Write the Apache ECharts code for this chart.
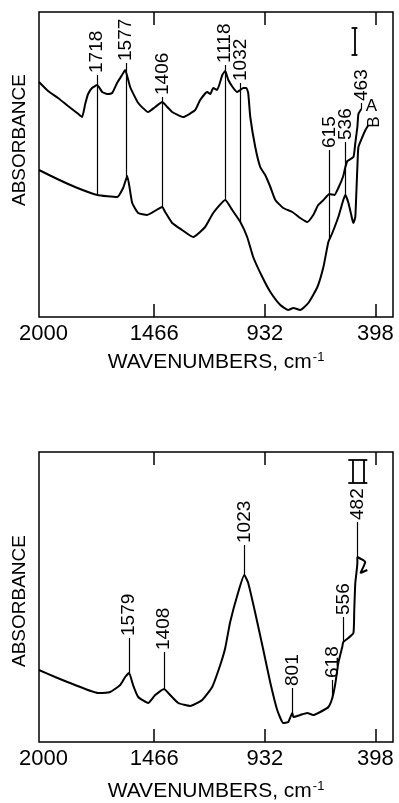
<!DOCTYPE html>
<html><head><meta charset="utf-8">
<script src="https://cdn.jsdelivr.net/npm/echarts@6/dist/echarts.min.js"></script>
<style>html,body{margin:0;padding:0;background:#fff}#c{width:399px;height:803px}</style>
</head><body><div id="c"></div>
<script>
// ---------- DATA ----------
// x-axis tick labels (wavenumbers, cm-1)
const tickLabels = [2000, 1466, 932, 398];
const tickMarks = [1466, 932, 398];

// Upper panel, spectrum A
const waveA = [2022,1978,1930,1882,1838,1814,1799,1785,1766,1741,1717,1693,1669,1645,1621,1606,1582,1543,1495,1461,1427,1403,1379,1326,1268,1244,1210,1195,1181,1162,1137,1123,1108,1084,1065,1050,1036,1021,1012,1002,978,954,930,905,881,843,799,761,727,698,674,649,620,596,577,553,543,533,504,495,485,480,466];
const absA  = [2.35,2.26,2.19,2.11,2.04,2.00,2.13,2.23,2.29,2.32,2.25,2.23,2.24,2.34,2.42,2.47,2.30,2.14,2.05,2.10,2.15,2.10,2.05,2.00,2.07,2.17,2.25,2.23,2.29,2.27,2.42,2.46,2.37,2.29,2.25,2.27,2.29,2.29,2.24,2.00,1.70,1.50,1.42,1.30,1.17,1.09,1.05,0.99,0.95,1.02,1.12,1.17,1.23,1.22,1.29,1.41,1.50,1.56,1.60,1.74,1.90,2.03,2.08];

// Upper panel, spectrum B
const waveB = [2022,1944,1848,1741,1645,1616,1596,1572,1543,1500,1427,1413,1379,1331,1278,1220,1181,1123,1089,1050,1017,988,944,905,857,819,794,761,722,678,649,625,606,577,553,543,528,509,504,495,490,485,480,461,446,432];
const absB  = [1.47,1.39,1.30,1.22,1.20,1.29,1.41,1.14,1.04,1.02,1.10,1.05,0.94,0.87,0.80,0.90,1.04,1.17,1.07,0.95,0.80,0.60,0.40,0.25,0.12,0.07,0.09,0.07,0.14,0.30,0.50,0.75,0.84,1.00,1.17,1.22,1.14,0.97,0.94,1.00,1.24,1.50,1.70,1.80,1.87,1.92];

// Lower panel spectrum
const waveC = [2022,1944,1848,1737,1679,1630,1606,1587,1568,1543,1495,1461,1418,1398,1350,1292,1234,1186,1147,1123,1099,1060,1031,1012,978,939,905,872,843,819,799,794,761,727,698,664,625,606,591,577,558,553,529,504,500,495,485,485,447,470,437];
const absC  = [0.72,0.65,0.57,0.49,0.50,0.57,0.65,0.69,0.57,0.45,0.39,0.47,0.53,0.49,0.39,0.36,0.42,0.55,0.77,0.94,1.20,1.50,1.67,1.59,1.29,0.92,0.59,0.32,0.19,0.20,0.29,0.25,0.27,0.29,0.27,0.30,0.35,0.44,0.59,0.79,0.95,1.00,1.04,1.09,1.32,1.59,1.79,1.85,1.80,1.69,1.72];

// Upper panel peak annotations
const peaksTopText = ['1718','1577','1406','1118','1032','615','536','463'];
const peaksTopPos  = [1742,1601,1425,1123,1050,620,543,466];
const peaksTopBase = [2.42,2.54,2.20,2.52,2.34,1.67,1.75,2.14];
const peaksTopEnd  = [1.22,1.40,1.10,1.17,0.95,0.77,1.22,2.08];

// Lower panel peak annotations
const peaksLowText = ['1579','1408','1023','801','618','556','482'];
const peaksLowPos  = [1587,1418,1031,799,606,553,485];
const peaksLowBase = [1.04,0.90,1.97,0.54,0.62,1.25,2.20];
const peaksLowEnd  = [0.69,0.53,1.67,0.29,0.44,1.00,1.85];

// Curve identifiers (upper panel)
const curveNames = ['A','B'];
const curveNamePos = [[417,2.11],[403,1.95]];
const curveNameRot = [0, 90];

// Absorbance scale bars
const scaleTop = {w:[513,499,485], lo:2.62, hi:2.89};
const scaleLow = {w:[529,509,456,437], lo:2.59, hi:2.82};

// ---------- CHART ----------
const FONT = "'Liberation Sans', Arial, sans-serif";
const X_MIN = 313, X_MAX = 2022;
const pairs = (w,a) => w.map((x,i)=>[x,a[i]]);
const drops = (p,b,e) => p.map((x,i)=>[{coord:[x,b[i]]},{coord:[x,e[i]]}]);

function bottomAxis(g, gap){
  return {type:'value', gridIndex:g, min:X_MIN, max:X_MAX, inverse:true, position:'bottom',
    axisLine:{show:false}, splitLine:{show:false},
    axisTick:{show:true, inside:true, length:13, customValues:tickMarks, lineStyle:{color:'#000',width:1.5}},
    axisLabel:{show:true, customValues:tickLabels, formatter:(v)=>String(v), color:'#000', fontSize:22, fontFamily:FONT, margin:6},
    name:'WAVENUMBERS, cm{s|-1}', nameLocation:'middle', nameGap:gap,
    nameTextStyle:{color:'#000', fontSize:21, fontFamily:FONT,
      rich:{s:{fontSize:13, fontFamily:FONT, color:'#000', verticalAlign:'top', padding:[0,0,10,1]}}}
  };
}
function topAxis(g){
  return {type:'value', gridIndex:g, min:X_MIN, max:X_MAX, inverse:true, position:'top',
    axisLine:{show:false}, splitLine:{show:false}, axisLabel:{show:false},
    axisTick:{show:true, inside:true, length:13, customValues:tickMarks, lineStyle:{color:'#000',width:1.5}}};
}
function yAxis(g, max){
  return {type:'value', gridIndex:g, min:0, max:max, show:false, splitLine:{show:false}};
}
function curve(name, xi, yi, data){
  return {type:'line', name, xAxisIndex:xi, yAxisIndex:yi, data, showSymbol:false, symbol:'none',
    smooth:0.15, lineStyle:{color:'#000', width:2}, z:3};
}
function peakSeries(xi, yi, text, pos, base, end){
  return {type:'scatter', xAxisIndex:xi, yAxisIndex:yi, symbolSize:0.1, itemStyle:{color:'#000', opacity:1},
    data: pos.map((p,i)=>[p, base[i], text[i]]),
    label:{show:true, formatter:(p)=>p.data[2], position:'inside', rotate:90, align:'left', verticalAlign:'middle',
      color:'#000', opacity:1, fontSize:19, fontFamily:FONT, padding:[0,0,0,2]},
    markLine:{silent:true, symbol:['none','none'], animation:false, label:{show:false},
      lineStyle:{color:'#000', width:1.2, type:'solid', opacity:1}, emphasis:{disabled:true},
      data: drops(pos, base, end)}
  };
}
function scaleBar(xi, yi, s){
  const segs = [];
  const ws = s.w;
  if (ws.length === 3){
    segs.push([{coord:[ws[1], s.lo]},{coord:[ws[1], s.hi]}]);
    segs.push([{coord:[ws[0], s.hi]},{coord:[ws[2], s.hi]}]);
    segs.push([{coord:[ws[0], s.lo]},{coord:[ws[2], s.lo]}]);
  } else {
    segs.push([{coord:[ws[1], s.lo]},{coord:[ws[1], s.hi]}]);
    segs.push([{coord:[ws[2], s.lo]},{coord:[ws[2], s.hi]}]);
    segs.push([{coord:[ws[0], s.hi]},{coord:[ws[3], s.hi]}]);
    segs.push([{coord:[ws[0], s.lo]},{coord:[ws[3], s.lo]}]);
  }
  return {type:'scatter', xAxisIndex:xi, yAxisIndex:yi, data:[],
    markLine:{silent:true, symbol:['none','none'], animation:false, label:{show:false},
      lineStyle:{color:'#000', width:1.8, type:'solid', opacity:1}, data:segs}};
}

const chart = echarts.init(document.getElementById('c'), null, {renderer:'canvas'});
chart.setOption({
  animation:false,
  backgroundColor:'#fff',
  grid:[
    {left:39, top:12, width:354, height:305, show:true, borderColor:'#000', borderWidth:1.5, backgroundColor:'transparent'},
    {left:39, top:452, width:354, height:290, show:true, borderColor:'#000', borderWidth:1.5, backgroundColor:'transparent'}
  ],
  xAxis:[bottomAxis(0, 34), topAxis(0), bottomAxis(1, 38), topAxis(1)],
  yAxis:[yAxis(0, 3.05), yAxis(1, 2.90)],
  graphic:[
    {type:'text', x:20, y:140, rotation:Math.PI/2, style:{text:'ABSORBANCE', fill:'#000', font:"19px 'Liberation Sans', Arial, sans-serif", align:'center', verticalAlign:'middle'}},
    {type:'text', x:20, y:601, rotation:Math.PI/2, style:{text:'ABSORBANCE', fill:'#000', font:"19px 'Liberation Sans', Arial, sans-serif", align:'center', verticalAlign:'middle'}}
  ],
  series:[
    curve('A', 0, 0, pairs(waveA, absA)),
    curve('B', 0, 0, pairs(waveB, absB)),
    curve('C', 2, 1, pairs(waveC, absC)),
    peakSeries(0, 0, peaksTopText, peaksTopPos, peaksTopBase, peaksTopEnd),
    peakSeries(2, 1, peaksLowText, peaksLowPos, peaksLowBase, peaksLowEnd),
    {type:'scatter', xAxisIndex:0, yAxisIndex:0, symbolSize:0.1, itemStyle:{color:'#000', opacity:1},
      data: curveNamePos.map((p,i)=>({value:[p[0], p[1]], name:curveNames[i],
        label:{rotate:curveNameRot[i]}})),
      label:{show:true, position:'inside', formatter:(p)=>p.name, color:'#000', opacity:1, fontSize:17, fontFamily:FONT,
        align:'center', verticalAlign:'middle'}},
    scaleBar(0, 0, scaleTop),
    scaleBar(2, 1, scaleLow)
  ]
});
</script></body></html>
